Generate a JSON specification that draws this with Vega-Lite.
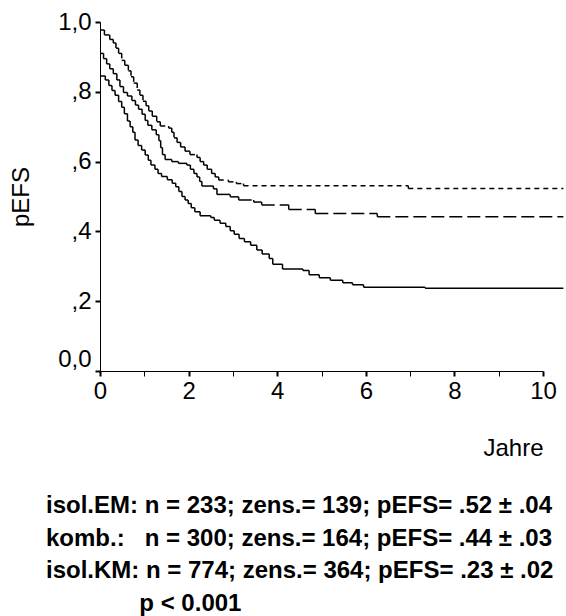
{
  "$schema": "https://vega.github.io/schema/vega-lite/v6.json",
  "width": 443,
  "height": 349,
  "autosize": {"type": "none"},
  "padding": {"left": 100, "top": 22, "right": 23, "bottom": 245},
  "background": "white",
  "config": {
    "view": {"stroke": null},
    "font": "Liberation Sans",
    "axis": {
      "domainColor": "black",
      "domainWidth": 1,
      "tickColor": "black",
      "tickSize": 5,
      "grid": false,
      "labelFont": "Liberation Sans",
      "labelFontSize": 24,
      "labelColor": "black",
      "labelOverlap": false,
      "labelFlush": false,
      "titleFont": "Liberation Sans",
      "titleFontSize": 24,
      "titleFontWeight": "normal",
      "titleColor": "black"
    }
  },
  "title": {
    "text": [
      "isol.EM: n = 233; zens.= 139; pEFS= .52 ± .04",
      "komb.:\u00a0\u00a0\u00a0n = 300; zens.= 164; pEFS= .44 ± .03",
      "isol.KM: n = 774; zens.= 364; pEFS= .23 ± .02",
      "\u200b\u00a0\u00a0\u00a0\u00a0\u00a0\u00a0\u00a0\u00a0\u00a0\u00a0\u00a0\u00a0\u00a0\u00a0p < 0.001"
    ],
    "orient": "bottom",
    "anchor": "start",
    "frame": "group",
    "dx": -54,
    "offset": 34,
    "font": "Liberation Sans",
    "fontSize": 24,
    "fontWeight": "bold",
    "color": "black",
    "lineHeight": 32.7
  },
  "data": {
    "values": [
      {"g": "isol.EM", "t": 0, "s": 0.977},
      {"g": "isol.EM", "t": 0.10, "s": 0.963},
      {"g": "isol.EM", "t": 0.22, "s": 0.950},
      {"g": "isol.EM", "t": 0.30, "s": 0.940},
      {"g": "isol.EM", "t": 0.36, "s": 0.925},
      {"g": "isol.EM", "t": 0.42, "s": 0.910},
      {"g": "isol.EM", "t": 0.49, "s": 0.890},
      {"g": "isol.EM", "t": 0.56, "s": 0.876},
      {"g": "isol.EM", "t": 0.64, "s": 0.860},
      {"g": "isol.EM", "t": 0.70, "s": 0.843},
      {"g": "isol.EM", "t": 0.76, "s": 0.825},
      {"g": "isol.EM", "t": 0.84, "s": 0.805},
      {"g": "isol.EM", "t": 0.90, "s": 0.790},
      {"g": "isol.EM", "t": 0.97, "s": 0.773},
      {"g": "isol.EM", "t": 1.04, "s": 0.760},
      {"g": "isol.EM", "t": 1.10, "s": 0.745},
      {"g": "isol.EM", "t": 1.18, "s": 0.730},
      {"g": "isol.EM", "t": 1.28, "s": 0.714},
      {"g": "isol.EM", "t": 1.36, "s": 0.702},
      {"g": "isol.EM", "t": 1.55, "s": 0.696},
      {"g": "isol.EM", "t": 1.62, "s": 0.684},
      {"g": "isol.EM", "t": 1.67, "s": 0.668},
      {"g": "isol.EM", "t": 1.74, "s": 0.655},
      {"g": "isol.EM", "t": 1.82, "s": 0.642},
      {"g": "isol.EM", "t": 1.92, "s": 0.630},
      {"g": "isol.EM", "t": 2.03, "s": 0.620},
      {"g": "isol.EM", "t": 2.19, "s": 0.612},
      {"g": "isol.EM", "t": 2.26, "s": 0.600},
      {"g": "isol.EM", "t": 2.34, "s": 0.590},
      {"g": "isol.EM", "t": 2.42, "s": 0.578},
      {"g": "isol.EM", "t": 2.52, "s": 0.566},
      {"g": "isol.EM", "t": 2.60, "s": 0.556},
      {"g": "isol.EM", "t": 2.68, "s": 0.547},
      {"g": "isol.EM", "t": 2.90, "s": 0.542},
      {"g": "isol.EM", "t": 3.08, "s": 0.537},
      {"g": "isol.EM", "t": 3.24, "s": 0.531},
      {"g": "isol.EM", "t": 6.96, "s": 0.523},
      {"g": "isol.EM", "t": 10.46, "s": 0.523},
      {"g": "komb.", "t": 0, "s": 0.910},
      {"g": "komb.", "t": 0.08, "s": 0.895},
      {"g": "komb.", "t": 0.15, "s": 0.880},
      {"g": "komb.", "t": 0.22, "s": 0.866},
      {"g": "komb.", "t": 0.30, "s": 0.852},
      {"g": "komb.", "t": 0.38, "s": 0.834},
      {"g": "komb.", "t": 0.45, "s": 0.815},
      {"g": "komb.", "t": 0.53, "s": 0.798},
      {"g": "komb.", "t": 0.62, "s": 0.788},
      {"g": "komb.", "t": 0.72, "s": 0.775},
      {"g": "komb.", "t": 0.80, "s": 0.762},
      {"g": "komb.", "t": 0.87, "s": 0.750},
      {"g": "komb.", "t": 0.95, "s": 0.736},
      {"g": "komb.", "t": 1.02, "s": 0.718},
      {"g": "komb.", "t": 1.08, "s": 0.704},
      {"g": "komb.", "t": 1.17, "s": 0.691},
      {"g": "komb.", "t": 1.27, "s": 0.677},
      {"g": "komb.", "t": 1.33, "s": 0.660},
      {"g": "komb.", "t": 1.37, "s": 0.640},
      {"g": "komb.", "t": 1.41, "s": 0.620},
      {"g": "komb.", "t": 1.47, "s": 0.606},
      {"g": "komb.", "t": 1.62, "s": 0.600},
      {"g": "komb.", "t": 1.77, "s": 0.595},
      {"g": "komb.", "t": 1.96, "s": 0.590},
      {"g": "komb.", "t": 2.04, "s": 0.578},
      {"g": "komb.", "t": 2.12, "s": 0.566},
      {"g": "komb.", "t": 2.19, "s": 0.556},
      {"g": "komb.", "t": 2.25, "s": 0.543},
      {"g": "komb.", "t": 2.30, "s": 0.530},
      {"g": "komb.", "t": 2.56, "s": 0.522},
      {"g": "komb.", "t": 2.64, "s": 0.506},
      {"g": "komb.", "t": 2.94, "s": 0.499},
      {"g": "komb.", "t": 3.13, "s": 0.490},
      {"g": "komb.", "t": 3.47, "s": 0.484},
      {"g": "komb.", "t": 3.65, "s": 0.476},
      {"g": "komb.", "t": 4.26, "s": 0.463},
      {"g": "komb.", "t": 4.86, "s": 0.451},
      {"g": "komb.", "t": 6.26, "s": 0.442},
      {"g": "komb.", "t": 10.46, "s": 0.442},
      {"g": "isol.KM", "t": 0, "s": 0.845},
      {"g": "isol.KM", "t": 0.12, "s": 0.834},
      {"g": "isol.KM", "t": 0.20, "s": 0.818},
      {"g": "isol.KM", "t": 0.27, "s": 0.804},
      {"g": "isol.KM", "t": 0.34, "s": 0.790},
      {"g": "isol.KM", "t": 0.42, "s": 0.772},
      {"g": "isol.KM", "t": 0.49, "s": 0.756},
      {"g": "isol.KM", "t": 0.55, "s": 0.737},
      {"g": "isol.KM", "t": 0.62, "s": 0.716},
      {"g": "isol.KM", "t": 0.68, "s": 0.700},
      {"g": "isol.KM", "t": 0.74, "s": 0.684},
      {"g": "isol.KM", "t": 0.79, "s": 0.662},
      {"g": "isol.KM", "t": 0.86, "s": 0.646},
      {"g": "isol.KM", "t": 0.94, "s": 0.633},
      {"g": "isol.KM", "t": 1.02, "s": 0.619},
      {"g": "isol.KM", "t": 1.09, "s": 0.604},
      {"g": "isol.KM", "t": 1.15, "s": 0.590},
      {"g": "isol.KM", "t": 1.24, "s": 0.578},
      {"g": "isol.KM", "t": 1.31, "s": 0.566},
      {"g": "isol.KM", "t": 1.39, "s": 0.557},
      {"g": "isol.KM", "t": 1.52, "s": 0.548},
      {"g": "isol.KM", "t": 1.63, "s": 0.538},
      {"g": "isol.KM", "t": 1.71, "s": 0.528},
      {"g": "isol.KM", "t": 1.78, "s": 0.514},
      {"g": "isol.KM", "t": 1.85, "s": 0.500},
      {"g": "isol.KM", "t": 1.92, "s": 0.490},
      {"g": "isol.KM", "t": 1.99, "s": 0.480},
      {"g": "isol.KM", "t": 2.06, "s": 0.468},
      {"g": "isol.KM", "t": 2.14, "s": 0.456},
      {"g": "isol.KM", "t": 2.26, "s": 0.445},
      {"g": "isol.KM", "t": 2.50, "s": 0.440},
      {"g": "isol.KM", "t": 2.58, "s": 0.432},
      {"g": "isol.KM", "t": 2.71, "s": 0.423},
      {"g": "isol.KM", "t": 2.84, "s": 0.414},
      {"g": "isol.KM", "t": 2.94, "s": 0.402},
      {"g": "isol.KM", "t": 3.03, "s": 0.392},
      {"g": "isol.KM", "t": 3.14, "s": 0.380},
      {"g": "isol.KM", "t": 3.26, "s": 0.370},
      {"g": "isol.KM", "t": 3.40, "s": 0.360},
      {"g": "isol.KM", "t": 3.54, "s": 0.347},
      {"g": "isol.KM", "t": 3.66, "s": 0.335},
      {"g": "isol.KM", "t": 3.82, "s": 0.322},
      {"g": "isol.KM", "t": 3.90, "s": 0.306},
      {"g": "isol.KM", "t": 4.12, "s": 0.292},
      {"g": "isol.KM", "t": 4.58, "s": 0.288},
      {"g": "isol.KM", "t": 4.72, "s": 0.276},
      {"g": "isol.KM", "t": 4.95, "s": 0.267},
      {"g": "isol.KM", "t": 5.20, "s": 0.260},
      {"g": "isol.KM", "t": 5.48, "s": 0.253},
      {"g": "isol.KM", "t": 5.70, "s": 0.247},
      {"g": "isol.KM", "t": 5.95, "s": 0.240},
      {"g": "isol.KM", "t": 7.34, "s": 0.237},
      {"g": "isol.KM", "t": 10.46, "s": 0.237}
    ]
  },
  "transform": [
    {
      "window": [
        {"op": "lead", "field": "t", "as": "t2"},
        {"op": "lead", "field": "s", "as": "s2"}
      ],
      "groupby": ["g"],
      "sort": [{"field": "t", "order": "ascending"}]
    },
    {"filter": "datum.t2 != null"}
  ],
  "layer": [
    {
      "mark": {"type": "rule", "color": "black", "strokeWidth": 1.5},
      "encoding": {
        "x": {
          "field": "t",
          "type": "quantitative",
          "title": "Jahre",
          "scale": {"domain": [0, 10], "nice": false, "zero": false},
          "axis": {
            "values": [0, 1, 2, 3, 4, 5, 6, 7, 8, 9, 10],
            "labelExpr": "datum.value % 2 == 0 ? datum.label : ''",
            "format": "d",
            "labelPadding": 3,
            "tickWidth": {"condition": {"test": "datum.value % 2 == 0", "value": 2}, "value": 1},
            "titleAnchor": "end",
            "titlePadding": 33
          }
        },
        "x2": {"field": "t2"},
        "y": {
          "field": "s",
          "type": "quantitative",
          "title": "pEFS",
          "scale": {"domain": [0, 1], "nice": false},
          "axis": {
            "values": [0, 0.1, 0.2, 0.3, 0.4, 0.5, 0.6, 0.7, 0.8, 0.9, 1],
            "labelExpr": "datum.value > 0.95 ? '1,0' : datum.value < 0.05 ? '0,0' : (round(datum.value * 10) % 2 == 0 ? ',' + round(datum.value * 10) : '')",
            "labelPadding": 4,
            "labelOffset": {"condition": {"test": "datum.value < 0.05", "value": -12}, "value": 0},
            "tickWidth": {"condition": {"test": "round(datum.value * 10) % 2 == 0", "value": 2}, "value": 1},
            "titlePadding": 24
          }
        },
        "strokeDash": {
          "field": "g",
          "type": "nominal",
          "scale": {"domain": ["isol.EM", "komb.", "isol.KM"], "range": [[5, 4], [13, 5], [1, 0]]},
          "legend": null
        }
      }
    },
    {
      "mark": {"type": "rule", "color": "black", "strokeWidth": 1.5},
      "encoding": {
        "x": {"field": "t2", "type": "quantitative", "title": "Jahre"},
        "y": {"field": "s", "type": "quantitative", "title": "pEFS"},
        "y2": {"field": "s2"},
        "strokeDash": {
          "field": "g",
          "type": "nominal",
          "scale": {"domain": ["isol.EM", "komb.", "isol.KM"], "range": [[5, 4], [13, 5], [1, 0]]},
          "legend": null
        }
      }
    }
  ]
}
